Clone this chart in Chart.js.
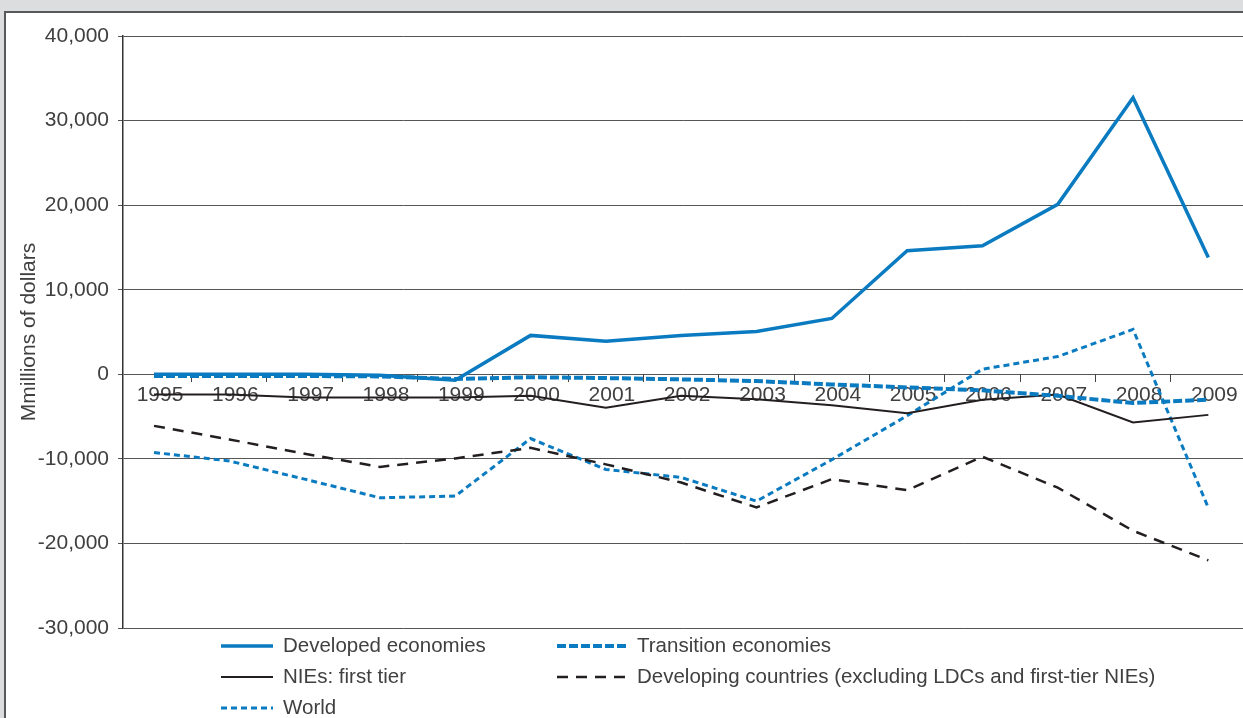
<!DOCTYPE html>
<html>
<head>
<meta charset="utf-8">
<script src="https://cdn.jsdelivr.net/npm/chart.js@4.4.0/dist/chart.umd.min.js"></script>
<style>
  html, body { margin: 0; padding: 0; }
  body { width: 1243px; height: 718px; overflow: hidden; background: #dcdddf; position: relative; }
  .panel { position: absolute; left: 4px; top: 11px; right: -10px; bottom: -10px; background: #fff;
           border-top: 2px solid #58595b; border-left: 2px solid #58595b; }
  canvas { position: absolute; left: 0; top: 0; }
</style>
</head>
<body>
<div class="panel"></div>
<canvas id="myChart" width="1243" height="718"></canvas>
<script>
const years = ['1995', '1996', '1997', '1998', '1999', '2000', '2001', '2002', '2003', '2004', '2005', '2006', '2007', '2008', '2009'];
const developed = [0, 0, 0, -100, -700, 4600, 3900, 4600, 5050, 6600, 14600, 15200, 20100, 32700, 13800];
const transition = [-200, -200, -200, -250, -550, -350, -450, -600, -800, -1200, -1550, -1900, -2550, -3400, -3000];
const nies = [-2400, -2400, -2750, -2750, -2750, -2550, -3950, -2550, -2950, -3650, -4600, -3000, -2400, -5700, -4800];
const developing = [-6100, -7700, -9400, -10950, -9950, -8700, -10650, -12800, -15750, -12400, -13700, -9750, -13400, -18500, -22000];
const world = [-9250, -10250, -12400, -14600, -14400, -7600, -11250, -12200, -15000, -10100, -4900, 600, 2100, 5300, -15800];
const yTicks = [-30000, -20000, -10000, 0, 10000, 20000, 30000, 40000];

const blue = '#0b7bc1';
const black = '#231f20';
const textColor = '#404040';
const font = '"Liberation Sans", Arial, sans-serif';

const toPoints = arr => arr.map((v, i) => ({ x: i, y: v }));

// two-column legend drawn under the plot
const legendPlugin = {
  id: 'gridLegend',
  afterDraw(chart) {
    const ctx = chart.ctx;
    const slots = [
      { x: 221, y: 646 }, { x: 557, y: 646 },
      { x: 221, y: 677 }, { x: 557, y: 677 },
      { x: 221, y: 708 }
    ];
    ctx.save();
    ctx.font = '20.5px ' + font;
    ctx.textBaseline = 'middle';
    ctx.fillStyle = textColor;
    chart.data.datasets.forEach((ds, i) => {
      const s = slots[i];
      const len = s.x < 400 ? 52 : 69;
      ctx.beginPath();
      ctx.strokeStyle = ds.borderColor;
      ctx.lineWidth = ds.borderWidth;
      ctx.setLineDash(ds.borderDash || []);
      ctx.moveTo(s.x, s.y);
      ctx.lineTo(s.x + len, s.y);
      ctx.stroke();
      ctx.setLineDash([]);
      ctx.fillText(ds.label, s.x + len + (s.x < 400 ? 10 : 11), s.y);
    });
    ctx.restore();
  }
};

new Chart(document.getElementById('myChart'), {
  type: 'line',
  data: {
    datasets: [
      { label: 'Developed economies', data: toPoints(developed), borderColor: blue, borderWidth: 3.5 },
      { label: 'Transition economies', data: toPoints(transition), borderColor: blue, borderWidth: 4, borderDash: [9, 3] },
      { label: 'NIEs: first tier', data: toPoints(nies), borderColor: black, borderWidth: 2 },
      { label: 'Developing countries (excluding LDCs and first-tier NIEs)', data: toPoints(developing), borderColor: black, borderWidth: 2.5, borderDash: [11, 8] },
      { label: 'World', data: toPoints(world), borderColor: blue, borderWidth: 3, borderDash: [6, 4] }
    ]
  },
  options: {
    responsive: false,
    animation: false,
    elements: {
      point: { radius: 0 },
      line: { tension: 0, fill: false, borderCapStyle: 'butt', borderJoinStyle: 'miter' }
    },
    layout: { padding: { left: 0, top: 36, right: 0, bottom: 90 } },
    scales: {
      y: {
        min: -30000,
        max: 40000,
        afterBuildTicks: scale => { scale.ticks = yTicks.map(v => ({ value: v })); },
        afterFit: scale => { scale.width = 123; },
        ticks: {
          color: textColor,
          font: { family: font, size: 21 },
          padding: 9,
          callback: v => v.toLocaleString('en-US')
        },
        grid: { color: '#555', lineWidth: 1, tickLength: 5 },
        border: { color: '#333', width: 1.5 },
        title: {
          display: true,
          text: 'Mmillions of dollars',
          color: textColor,
          font: { family: font, size: 21 },
          padding: { top: 17, bottom: 0 }
        }
      },
      x: {
        type: 'linear',
        position: { y: 0 },
        min: -0.412,
        max: 14.46,
        afterBuildTicks: scale => { scale.ticks = years.map((y, i) => ({ value: i })); },
        ticks: {
          color: textColor,
          font: { family: font, size: 21 },
          padding: 8,
          labelOffset: 6,
          maxRotation: 0,
          autoSkip: false,
          callback: v => years[v]
        },
        grid: { drawOnChartArea: false, drawTicks: false },
        border: { display: false }
      },
      xTicks: {
        type: 'linear',
        axis: 'x',
        position: { y: 0 },
        min: -0.412,
        max: 14.46,
        afterBuildTicks: scale => { scale.ticks = years.slice(1).map((y, i) => ({ value: i + 0.5 })); },
        ticks: { display: false },
        grid: { drawOnChartArea: false, drawTicks: true, tickLength: 8, color: '#444' },
        border: { display: false }
      }
    },
    plugins: {
      legend: { display: false },
      tooltip: { enabled: false }
    }
  },
  plugins: [legendPlugin]
});
</script>
</body>
</html>
